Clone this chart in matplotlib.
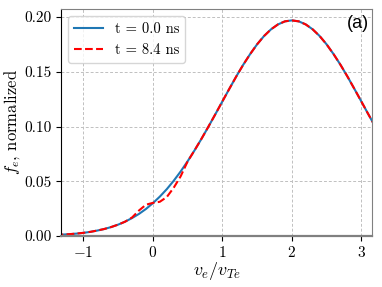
import numpy as np
import matplotlib
matplotlib.use('Agg')
import matplotlib.pyplot as plt

# 數據：分佈函數
v = [-1.4, -1.3, -1.2, -1.1, -1.0, -0.9, -0.8, -0.7, -0.6, -0.5,
     -0.4, -0.3, -0.2, -0.1, 0.0, 0.1, 0.2, 0.3, 0.4, 0.5,
     0.6, 0.7, 0.8, 0.9, 1.0, 1.1, 1.2, 1.3, 1.4, 1.5,
     1.6, 1.7, 1.8, 1.9, 2.0, 2.1, 2.2, 2.3, 2.4, 2.5,
     2.6, 2.7, 2.8, 2.9, 3.0, 3.1, 3.2]
f_t0 = [0.0008, 0.0012, 0.0016, 0.0021, 0.0028, 0.0037, 0.0049, 0.0063, 0.0081, 0.0103,
        0.0130, 0.0163, 0.0201, 0.0246, 0.0299, 0.0359, 0.0427, 0.0504, 0.0589, 0.0682,
        0.0782, 0.0888, 0.0999, 0.1113, 0.1229, 0.1344, 0.1457, 0.1564, 0.1662, 0.1751,
        0.1827, 0.1888, 0.1933, 0.1961, 0.1970, 0.1961, 0.1933, 0.1888, 0.1827, 0.1751,
        0.1662, 0.1564, 0.1457, 0.1344, 0.1229, 0.1113, 0.0999]
f_t84 = [0.0008, 0.0012, 0.0016, 0.0021, 0.0028, 0.0037, 0.0049, 0.0063, 0.0081, 0.0103,
         0.0130, 0.0168, 0.0232, 0.0285, 0.0302, 0.0312, 0.0355, 0.0440, 0.0545, 0.0680,
         0.0782, 0.0888, 0.0999, 0.1113, 0.1229, 0.1344, 0.1457, 0.1564, 0.1662, 0.1751,
         0.1827, 0.1888, 0.1933, 0.1961, 0.1970, 0.1961, 0.1933, 0.1888, 0.1827, 0.1751,
         0.1662, 0.1564, 0.1457, 0.1344, 0.1229, 0.1113, 0.0999]
labels = ['t = 0.0 ns', 't = 8.4 ns']
x_ticks = [-1, 0, 1, 2, 3]
y_ticks = [0.00, 0.05, 0.10, 0.15, 0.20]

plt.rcParams['font.family'] = 'serif'
plt.rcParams['font.serif'] = ['cmr10']
plt.rcParams['mathtext.fontset'] = 'cm'
plt.rcParams['axes.formatter.use_mathtext'] = True

fig = plt.figure(figsize=(3.82, 2.87), dpi=100)
ax = fig.add_axes([0.160, 0.178, 0.815, 0.791])

ax.plot(v, f_t0, color='#1f77b4', lw=1.5, label=labels[0])
ax.plot(v, f_t84, color='red', lw=1.5, ls='--', label=labels[1])

ax.set_xlim(-1.32, 3.16)
ax.set_ylim(0, 0.2075)
ax.set_xticks(x_ticks)
ax.set_yticks(y_ticks)
ax.set_yticklabels([f'{t:.2f}' for t in y_ticks])
ax.tick_params(labelsize=11, pad=3)
ax.grid(True, ls=(0, (3, 2)), color='#c0c0c0', lw=0.7)

for side in ['top', 'right', 'bottom']:
    ax.spines[side].set_color('#808080')
ax.spines['bottom'].set_linewidth(1.6)

ax.set_xlabel(r'$v_e/v_{Te}$', fontsize=13, labelpad=0)
ax.set_ylabel(r'$f_e$, normalized', fontsize=12, labelpad=2)
ax.legend(loc='upper left', fontsize=10.5)
ax.text(0.99, 0.975, '(a)', transform=ax.transAxes, ha='right', va='top',
        fontsize=13, family='Liberation Sans')

fig.savefig('out.png', dpi=100)
